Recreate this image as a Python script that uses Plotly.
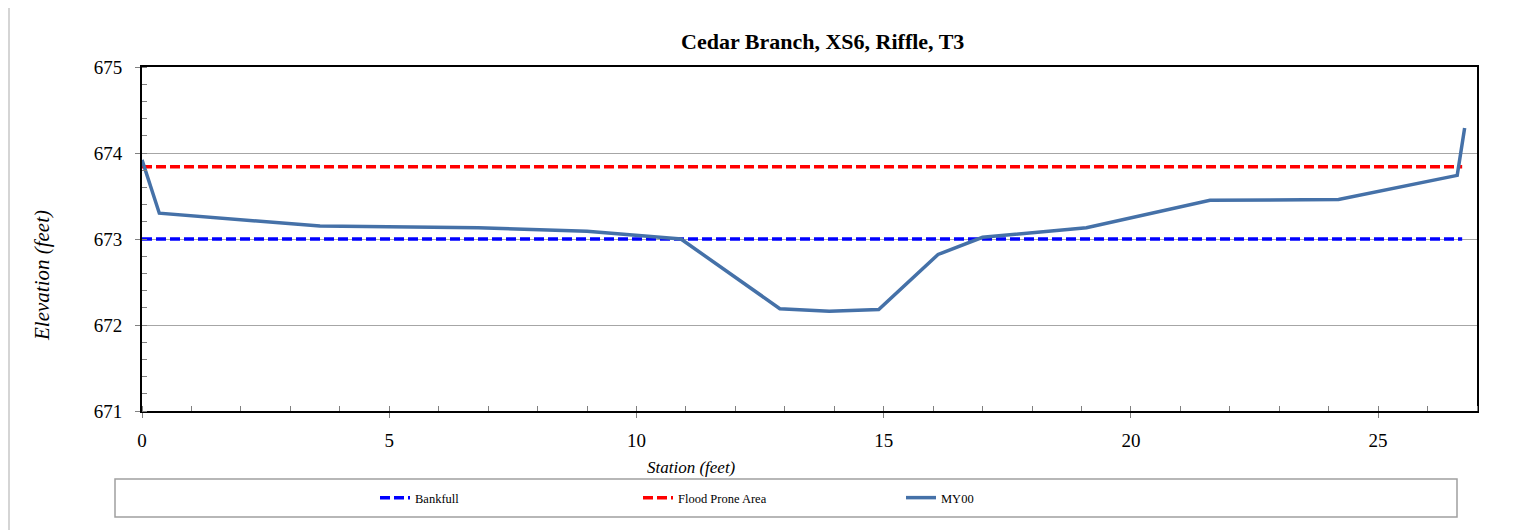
import plotly.graph_objects as go

station = [0, 0.35, 3.6, 6.8, 9.0, 10.9, 12.9, 13.9, 14.9, 16.1, 17.0, 19.1, 21.6, 24.2, 26.6, 26.75]
elev = [673.92, 673.30, 673.15, 673.13, 673.09, 673.00, 672.19, 672.16, 672.18, 672.82, 673.02, 673.13, 673.45, 673.46, 673.74, 674.29]

bank_x = [0, 26.7]
bank_y = [673.0, 673.0]
flood_x = [0, 26.7]
flood_y = [673.84, 673.84]

title = "Cedar Branch, XS6, Riffle, T3"
xtitle = "Station (feet)"
ytitle = "Elevation (feet)"

FONT = "Liberation Serif, Times New Roman, serif"

fig = go.Figure()
fig.add_trace(go.Scatter(x=bank_x, y=bank_y, mode="lines", name="Bankfull",
                         line=dict(color="#0000FF", width=3.5, dash="10px,4px")))
fig.add_trace(go.Scatter(x=flood_x, y=flood_y, mode="lines", name="Flood Prone Area",
                         line=dict(color="#FF0000", width=3.5, dash="10px,4px")))
fig.add_trace(go.Scatter(x=station, y=elev, mode="lines", name="MY00",
                         line=dict(color="#4571A8", width=3.5)))

OX, OY = 8, 8  # page body margin
W, H = 1531, 530
L, R, T, B = 142 - OX, 1477 - OX, 67 - OY, 411 - OY
pw, ph = R - L, B - T

def px(x):
    return (x - OX - L) / pw

def py(y):
    return (B - (y - OY)) / ph

fig.update_layout(
    width=W, height=H,
    margin=dict(l=L, r=W - R, t=T, b=H - B, pad=0),
    paper_bgcolor="white", plot_bgcolor="white",
    font=dict(family=FONT, color="black"),
    showlegend=True,
    legend=dict(orientation="h", x=px(375), y=py(498), xanchor="left", yanchor="middle",
                entrywidth=218, entrywidthmode="pixels", font=dict(size=12.5, family=FONT),
                bgcolor="rgba(0,0,0,0)", traceorder="normal"),
    xaxis=dict(range=[0, 27], tickvals=[0, 5, 10, 15, 20, 25], showgrid=False, zeroline=False,
               showline=True, mirror=True, linecolor="black", linewidth=2,
               ticks="outside", ticklen=5, tickcolor="#808080", ticklabelstandoff=6,
               minor=dict(dtick=1, ticks="inside", ticklen=5, tickcolor="#808080", showgrid=False),
               tickfont=dict(size=19, family=FONT)),
    yaxis=dict(range=[671, 675], dtick=1, showgrid=True, gridcolor="#A6A6A6", gridwidth=1,
               zeroline=False, showline=True, mirror=True, linecolor="black", linewidth=2,
               ticks="outside", ticklen=5, tickcolor="#808080", ticklabelstandoff=9,
               minor=dict(dtick=0.2, ticks="inside", ticklen=5, tickcolor="#808080", showgrid=False),
               tickfont=dict(size=19, family=FONT)),
    shapes=[
        dict(type="rect", xref="paper", yref="paper", x0=px(9), x1=px(1560), y0=py(560), y1=py(5),
             line=dict(color="#C8C8C8", width=1.5), layer="below"),
        dict(type="rect", xref="paper", yref="paper", x0=px(115), x1=px(1457), y0=py(517), y1=py(479),
             line=dict(color="#A0A0A0", width=1.5), layer="below"),
    ],
    annotations=[
        dict(text="<b>" + title + "</b>", xref="paper", yref="paper", x=px(822), y=py(41),
             showarrow=False, font=dict(size=22, family=FONT), xanchor="center", yanchor="middle"),
        dict(text="<i>" + xtitle + "</i>", xref="paper", yref="paper", x=px(691), y=py(467),
             showarrow=False, font=dict(size=17, family=FONT), xanchor="center", yanchor="middle"),
        dict(text="<i>" + ytitle + "</i>", xref="paper", yref="paper", x=px(42), y=py(276),
             showarrow=False, font=dict(size=21, family=FONT), textangle=-90,
             xanchor="center", yanchor="middle"),
    ],
)

fig.write_html("out.html")
